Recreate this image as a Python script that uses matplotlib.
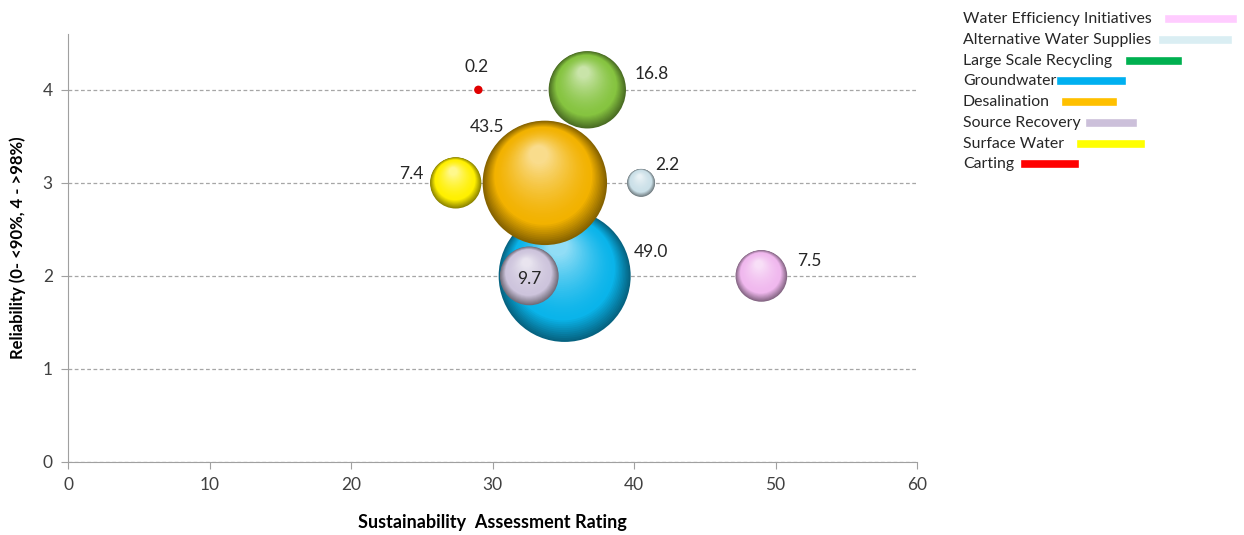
import numpy as np
import matplotlib.pyplot as plt
from matplotlib.colors import to_rgb
from matplotlib.lines import Line2D
import matplotlib.transforms as mtransforms

plt.rcParams['font.family'] = ['Lato', 'DejaVu Sans']

# data
series = ['Water Efficiency Initiatives', 'Alternative Water Supplies', 'Large Scale Recycling',
          'Groundwater', 'Desalination', 'Source Recovery', 'Surface Water', 'Carting']
rating = [49.0, 40.5, 36.7, 35.1, 33.7, 32.6, 27.4, 29.0]
reliability = [2, 3, 4, 2, 3, 2, 3, 4]
volume = [7.5, 2.2, 16.8, 49.0, 43.5, 9.7, 7.4, 0.2]

bubble_colors = ['#F0B8EE', '#CBE0E8', '#86C440', '#0AB4EA', '#F2B200', '#CDC4DC', '#FFF000', '#E00000']
legend_colors = ['#FFCCFF', '#DAEEF3', '#00B050', '#00B0F0', '#FFC000', '#CCC0DA', '#FFFF00', '#FF0000']

# label offsets in pixels (from bubble centre)
label_off = [(48, 15), (26, 18), (64, 16), (86, 24), (-58, 56), (0, -3), (-44, 9), (-2, 23)]

fig = plt.figure(figsize=(12.44, 5.35), dpi=100)
ax = fig.add_axes([68 / 1244, 1 - 462 / 535, (917 - 68) / 1244, (462 - 34) / 535])

ax.set_xlim(0, 60)
ax.set_ylim(0, 4.6)
ax.set_xticks(range(0, 61, 10))
ax.set_yticks(range(0, 5))
ax.yaxis.grid(True, linestyle=(0, (3, 2)), color='#A6A6A6', linewidth=0.9)
ax.set_axisbelow(True)
for s in ['top', 'right']:
    ax.spines[s].set_visible(False)
for s in ['left', 'bottom']:
    ax.spines[s].set_color('#A0A0A0')
ax.tick_params(colors='#A0A0A0', labelcolor='#404040', labelsize=12.5, length=5, pad=6)

ax.set_xlabel('Sustainability  Assessment Rating', fontsize=13, fontweight='bold', labelpad=15)
ax.set_ylabel('Reliability (0- <90%, 4 - >98%)', fontsize=12, fontweight='bold', labelpad=12)


def shade(c, f):
    # f: 0 edge (dark) -> 1 highlight (light)
    c = np.array(to_rgb(c))
    dark = c * 0.55
    light = c + (1 - c) * 0.55
    if f < 0.25:
        t = f / 0.25
        return dark + (c - dark) * t
    t = ((f - 0.25) / 0.75) ** 1.5
    return c + (light - c) * t


order = np.argsort(volume)[::-1]
n_layers = 45
for z, i in enumerate(order):
    r_pt = 6.79 * np.sqrt(volume[i])
    base_z = 2 + z
    if volume[i] < 1:
        ax.scatter(rating[i], reliability[i], s=(2 * r_pt) ** 2, color=bubble_colors[i],
                   edgecolors='none', zorder=base_z)
    else:
        for k in range(n_layers):
            f = k / (n_layers - 1)
            rk = r_pt * (1 - 0.85 * f)
            dx, dy = -0.1 * f * r_pt, 0.45 * f * r_pt
            tr = mtransforms.offset_copy(ax.transData, fig=fig, x=dx, y=dy, units='points')
            ax.scatter(rating[i], reliability[i], s=(2 * rk) ** 2, color=shade(bubble_colors[i], f),
                       edgecolors='none', transform=tr, zorder=base_z + k / n_layers * 0.9)
    ax.annotate(f'{volume[i]:.1f}', (rating[i], reliability[i]), xytext=label_off[i],
                textcoords='offset pixels', ha='center', va='center', fontsize=12.5,
                color='#262626', zorder=20)

# legend drawn Excel style: text, then a short coloured line after it
gaps = [17, 12, 18, 5, 16, 9, 17, 11]
lengths = [64, 65, 48, 61, 47, 43, 60, 50]
renderer = fig.canvas.get_renderer()
for j, name in enumerate(series):
    yp = 19 + j * 20.75
    t = fig.text(963 / 1244, 1 - yp / 535, name, fontsize=11.4, color='#262626', va='center', ha='left')
    x0 = t.get_window_extent(renderer).x1 + gaps[j]
    x1 = x0 + lengths[j]
    fig.add_artist(Line2D([x0 / 1244, x1 / 1244], [1 - yp / 535, 1 - yp / 535],
                          color=legend_colors[j], linewidth=5.5, transform=fig.transFigure))

fig.savefig('out.png', dpi=100)
